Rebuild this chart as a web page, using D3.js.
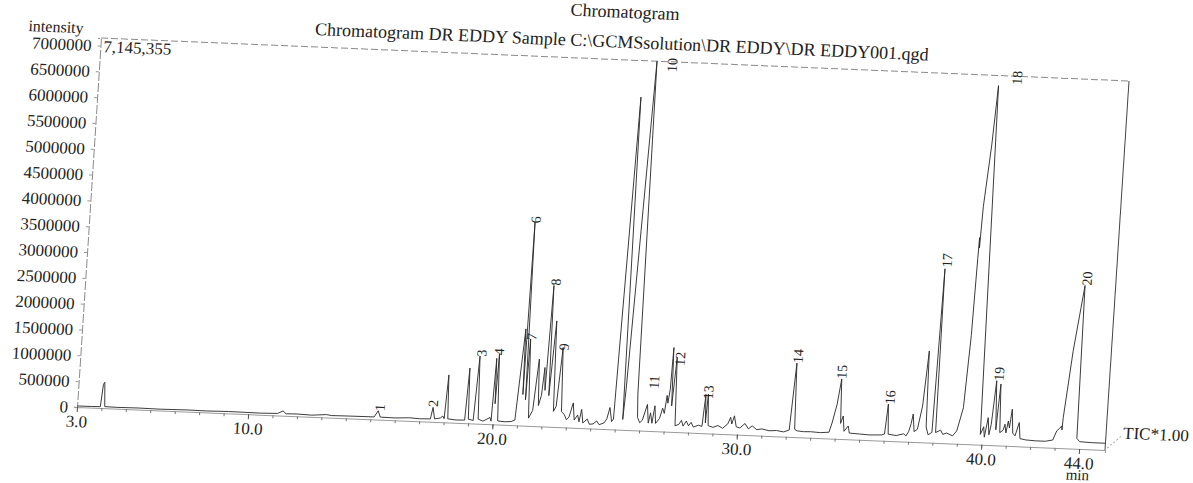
<!DOCTYPE html>
<html>
<head>
<meta charset="utf-8">
<script src="https://cdn.jsdelivr.net/npm/d3@7"></script>
<style>
  body { margin: 0; background: #fff; }
  text { font-family: "Liberation Serif", "DejaVu Serif", serif; fill: #222; }
</style>
</head>
<body>
<div id="root"></div>
<script>
// Retention time (min) and TIC intensity
const retentionTimes = [
  3.00, 3.60, 3.95, 4.02, 4.07, 4.13, 4.60, 5.50, 6.40, 7.50, 8.30, 9.20, 10.50, 11.20, 11.42, 11.55,
  12.00, 12.60, 13.20, 13.40, 14.20, 15.15, 15.30, 15.40, 16.00, 16.60, 17.00, 17.45, 17.53, 17.62,
  17.85, 17.95, 18.01, 18.09, 18.16, 18.50, 18.85, 18.93, 19.00, 19.20, 19.31, 19.40, 19.60, 19.88,
  19.93, 20.00, 20.05, 20.10, 20.20, 20.50, 20.75, 20.90, 21.11, 21.16, 21.20, 21.28, 21.33, 21.45,
  21.60, 21.74, 21.82, 21.92, 21.99, 22.05, 22.14, 22.22, 22.35, 22.45, 22.55, 22.68, 22.78, 22.90,
  23.00, 23.10, 23.24, 23.32, 23.45, 23.52, 23.60, 23.68, 23.85, 23.95, 24.10, 24.24, 24.35, 24.55,
  24.65, 24.75, 24.85, 24.92, 25.19, 25.30, 25.36, 25.75, 25.85, 25.90, 26.00, 26.10, 26.27, 26.35,
  26.42, 26.50, 26.58, 26.65, 26.80, 26.90, 26.98, 27.05, 27.10, 27.16, 27.20, 27.26, 27.36, 27.45,
  27.60, 27.70, 27.78, 27.90, 28.00, 28.10, 28.20, 28.40, 28.55, 28.63, 28.68, 28.73, 28.80, 29.00,
  29.20, 29.40, 29.60, 29.70, 29.76, 29.85, 29.95, 30.10, 30.30, 30.45, 30.60, 30.80, 31.00, 31.30,
  31.60, 31.90, 32.12, 32.26, 32.34, 32.45, 32.70, 33.00, 33.40, 33.75, 33.85, 34.01, 34.13, 34.20,
  34.29, 34.36, 34.52, 34.58, 35.00, 35.40, 35.90, 36.02, 36.10, 36.17, 36.50, 36.80, 36.90, 37.00,
  37.08, 37.14, 37.22, 37.35, 37.50, 37.63, 37.70, 37.80, 37.95, 38.05, 38.10, 38.30, 38.40, 38.55,
  38.80, 38.96, 39.17, 39.30, 39.36, 39.38, 39.40, 39.45, 39.63, 39.75, 39.93, 40.05, 40.10, 40.21,
  40.28, 40.35, 40.46, 40.55, 40.64, 40.72, 40.85, 40.91, 40.97, 41.04, 41.10, 41.17, 41.25, 41.35,
  41.49, 41.56, 41.80, 42.20, 42.60, 42.90, 43.04, 43.15, 43.23, 43.25, 43.27, 43.50, 43.81, 43.88,
  44.00, 44.50, 45.06
];
const ticIntensity = [
  20000, 22000, 25000, 460000, 500000, 30000, 25000, 30000, 25000, 32000, 28000, 35000, 30000, 38000, 90000, 38000,
  42000, 32000, 55000, 40000, 45000, 48000, 170000, 50000, 45000, 60000, 50000, 55000, 280000, 60000,
  80000, 120000, 70000, 920000, 70000, 55000, 60000, 1070000, 80000, 60000, 1310000, 90000, 55000, 130000,
  60000, 1280000, 400000, 1360000, 70000, 60000, 70000, 100000, 1870000, 600000, 3940000, 500000, 1680000, 150000,
  300000, 1300000, 400000, 600000, 1140000, 700000, 2730000, 600000, 2050000, 300000, 400000, 1540000, 300000, 250000,
  150000, 200000, 480000, 150000, 250000, 120000, 360000, 100000, 180000, 80000, 90000, 150000, 80000, 120000,
  200000, 420000, 150000, 200000, 6440000, 200000, 800000, 7145355, 700000, 250000, 150000, 200000, 510000, 150000,
  350000, 150000, 490000, 150000, 250000, 450000, 350000, 700000, 550000, 820000, 1630000, 500000, 1440000, 120000,
  150000, 230000, 120000, 220000, 130000, 200000, 110000, 150000, 130000, 750000, 200000, 760000, 150000, 120000,
  160000, 110000, 200000, 330000, 200000, 360000, 150000, 130000, 220000, 120000, 180000, 110000, 130000, 100000,
  110000, 90000, 130000, 1430000, 150000, 120000, 110000, 115000, 105000, 120000, 300000, 670000, 1160000, 300000,
  445000, 150000, 256000, 120000, 110000, 100000, 110000, 130000, 710000, 130000, 110000, 150000, 110000, 200000,
  350000, 540000, 200000, 250000, 700000, 1770000, 300000, 150000, 200000, 3370000, 200000, 250000, 170000, 200000,
  150000, 250000, 700000, 2100000, 3600000, 4000000, 3800000, 4600000, 5800000, 6950000, 200000, 350000, 150000, 530000,
  200000, 400000, 1250000, 300000, 1190000, 250000, 300000, 416000, 250000, 480000, 350000, 713000, 250000, 200000,
  460000, 150000, 130000, 120000, 120000, 150000, 330000, 380000, 430000, 350000, 590000, 1890000, 3160000, 200000,
  140000, 130000, 130000
];

// Peak numbers and where each number sits (foot of the rotated label)
const peakNumbers = ['1', '2', '3', '4', '6', '7', '8', '9', '10', '11', '12', '13', '14', '15', '16', '17', '18', '19', '20'];
const peakLabelTimes = [15.37, 17.54, 19.38, 20.09, 21.24, 21.38, 22.22, 22.72, 26.39, 26.50, 27.50, 28.74, 32.30, 34.13, 36.17, 38.13, 40.50, 40.55, 43.89];
const peakLabelLevels = [168000, 289000, 1300000, 1340000, 3920000, 1660000, 2730000, 1490000, 6950000, 815000, 1280000, 660000, 1430000, 1160000, 710000, 3400000, 6980000, 1250000, 3160000];

// Axis ticks
const yTickValues = [0, 500000, 1000000, 1500000, 2000000, 2500000, 3000000, 3500000, 4000000, 4500000, 5000000, 5500000, 6000000, 6500000, 7000000];
const xLabelTicks = [3, 10, 20, 30, 40, 44];
const xMinorTicks = d3.range(4, 45);

const maxIntensity = 7145355;
const timeRange = [3.0, 45.06];

const W = 1028, H = 369;

const svg = d3.select('#root')
  .append('svg')
  .attr('width', 1193)
  .attr('height', 483);

// The printout was scanned a little crooked: skew the whole drawing the same way
const chart = svg.append('g')
  .attr('transform', 'matrix(1,0.0418,-0.065,1,101,38)');

const x = d3.scaleLinear().domain(timeRange).range([0, W]);
const y = d3.scaleLinear().domain([0, maxIntensity]).range([H, 0]);

// Titles
chart.append('text')
  .attr('x', 521).attr('y', -42)
  .attr('text-anchor', 'middle')
  .style('font-size', '18px')
  .text('Chromatogram');

chart.append('text')
  .attr('x', 213).attr('y', -12)
  .style('font-size', '18px')
  .text('Chromatogram DR EDDY Sample C:\\GCMSsolution\\DR EDDY\\DR EDDY001.qgd');

chart.append('text')
  .attr('x', -18).attr('y', -4)
  .attr('text-anchor', 'end')
  .style('font-size', '16px')
  .text('intensity');

chart.append('text')
  .attr('x', 3).attr('y', 14)
  .style('font-size', '17px')
  .text('7,145,355');

// Frame
chart.append('line').attr('x1', 0).attr('y1', 0).attr('x2', W).attr('y2', 0)
  .attr('stroke', '#8a8a8a').attr('stroke-dasharray', '7,3');
chart.append('line').attr('x1', W).attr('y1', 0).attr('x2', W).attr('y2', H)
  .attr('stroke', '#444');

// Y axis
const yAxis = chart.append('g')
  .call(d3.axisLeft(y).tickValues(yTickValues).tickFormat(d3.format('d')).tickSize(3).tickPadding(6));
yAxis.select('.domain').attr('stroke', '#8a8a8a').attr('stroke-dasharray', '9,2');
yAxis.selectAll('.tick line').attr('stroke', '#999');
yAxis.selectAll('.tick text')
  .style('font-family', '"Liberation Serif", serif')
  .style('font-size', '17px')
  .attr('fill', '#222');

// X axis: minute ticks plus labelled ones
const xMinor = chart.append('g')
  .attr('transform', `translate(0,${H})`)
  .call(d3.axisBottom(x).tickValues(xMinorTicks).tickFormat('').tickSize(3));
xMinor.select('.domain').attr('stroke', '#9a9a9a');
xMinor.selectAll('.tick line').attr('stroke', '#777');

const xMajor = chart.append('g')
  .attr('transform', `translate(0,${H})`)
  .call(d3.axisBottom(x).tickValues(xLabelTicks).tickFormat(d3.format('.1f')).tickSize(5).tickPadding(3));
xMajor.select('.domain').remove();
xMajor.selectAll('.tick line').attr('stroke', '#555');
xMajor.selectAll('.tick text')
  .style('font-family', '"Liberation Serif", serif')
  .style('font-size', '17px')
  .attr('fill', '#222');

chart.append('text')
  .attr('x', x(44)).attr('y', H + 31)
  .attr('text-anchor', 'middle')
  .style('font-size', '15px')
  .text('min');

// TIC tag
chart.append('line')
  .attr('x1', W + 2).attr('y1', H - 2).attr('x2', W + 16).attr('y2', H - 15)
  .attr('stroke', '#aaa').attr('stroke-dasharray', '2,2');
chart.append('text')
  .attr('x', W + 17).attr('y', H - 12)
  .style('font-size', '17px')
  .text('TIC*1.00');

// Trace
chart.append('defs').append('clipPath').attr('id', 'plot-clip')
  .append('rect').attr('x', 0).attr('y', -1).attr('width', W).attr('height', H + 1);

const trace = retentionTimes.map((t, i) => [t, ticIntensity[i]]);
const line = d3.line().x(d => x(d[0])).y(d => y(d[1]));

chart.append('path')
  .datum(trace)
  .attr('clip-path', 'url(#plot-clip)')
  .attr('d', line)
  .attr('fill', 'none')
  .attr('stroke', '#2b2b2b')
  .attr('stroke-width', 0.9)
  .attr('stroke-linejoin', 'round');

// Peak numbers, printed sideways
chart.append('g').selectAll('text')
  .data(peakNumbers)
  .enter()
    .append('text')
    .attr('transform', (d, i) => `translate(${x(peakLabelTimes[i])},${y(peakLabelLevels[i])}) rotate(-90)`)
    .attr('dominant-baseline', 'central')
    .style('font-size', '14px')
    .text(d => d);
</script>
</body>
</html>
